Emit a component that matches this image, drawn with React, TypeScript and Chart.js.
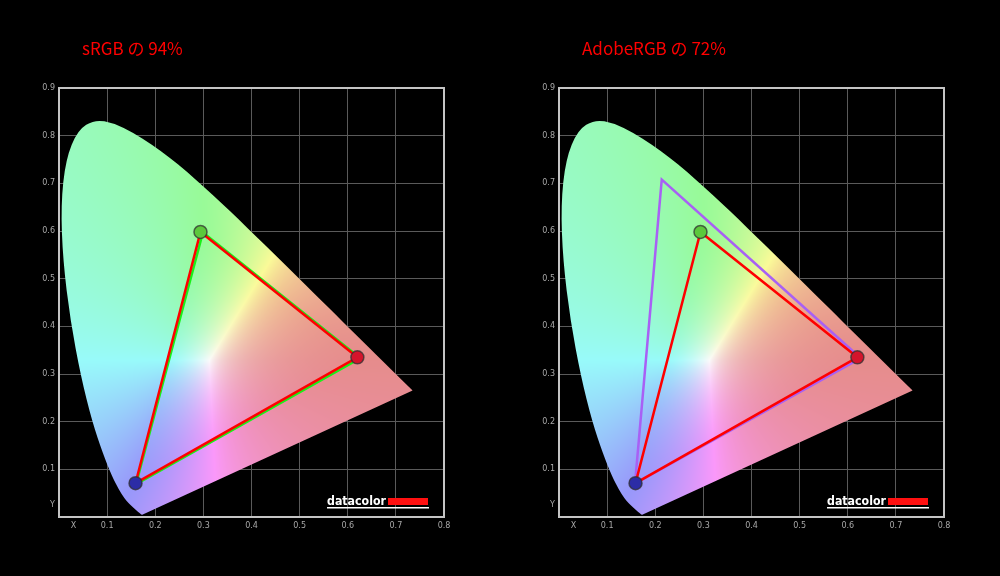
import { useEffect, useRef } from "react";
import { Chart, registerables } from "chart.js";

Chart.register(...registerables);

// CIE 1931 spectral locus (380–700 nm)
const LOCUS_X = [
  0.1741, 0.1733, 0.1726, 0.1714, 0.1689, 0.1644, 0.1566, 0.144, 0.1355, 0.1241, 0.1096, 0.0913,
  0.0687, 0.0454, 0.0235, 0.0082, 0.0039, 0.0139, 0.0389, 0.0743, 0.1142, 0.1547, 0.1929, 0.2296,
  0.2658, 0.3016, 0.3373, 0.3731, 0.4087, 0.4441, 0.4788, 0.5125, 0.5448, 0.5752, 0.6029, 0.627,
  0.6482, 0.6658, 0.6915, 0.7079, 0.719, 0.726, 0.73, 0.7334, 0.7347,
];
const LOCUS_Y = [
  0.005, 0.0048, 0.0048, 0.0051, 0.0069, 0.0109, 0.0177, 0.0297, 0.0399, 0.0578, 0.0868, 0.1327,
  0.2007, 0.295, 0.4127, 0.5384, 0.6548, 0.7502, 0.812, 0.8338, 0.8262, 0.8059, 0.7816, 0.7543,
  0.7243, 0.6923, 0.6589, 0.6245, 0.5896, 0.5547, 0.5202, 0.4866, 0.4544, 0.4242, 0.3965, 0.3725,
  0.3514, 0.334, 0.3083, 0.292, 0.2809, 0.274, 0.27, 0.2666, 0.2653,
];

// measured primaries (R, G, B)
const MEASURED_X = [0.62, 0.294, 0.159];
const MEASURED_Y = [0.335, 0.598, 0.071];
// reference gamuts (R, G, B)
const SRGB_REF_X = [0.626, 0.299, 0.16];
const SRGB_REF_Y = [0.333, 0.597, 0.069];
const ADOBE_REF_X = [0.627, 0.2135, 0.158];
const ADOBE_REF_Y = [0.333, 0.708, 0.07];

const X_TICKS = [0.03, 0.1, 0.2, 0.3, 0.4, 0.5, 0.6, 0.7, 0.8];
const X_TICK_LABELS = ["X", "0.1", "0.2", "0.3", "0.4", "0.5", "0.6", "0.7", "0.8"];
const Y_TICKS = [0.025, 0.1, 0.2, 0.3, 0.4, 0.5, 0.6, 0.7, 0.8, 0.9];
const Y_TICK_LABELS = ["Y", "0.1", "0.2", "0.3", "0.4", "0.5", "0.6", "0.7", "0.8", "0.9"];

const PANEL_TITLES = ["sRGB の 94%", "AdobeRGB の 72%"];
const PANEL_REF_COLORS = ["#19f019", "#a860f5"];
const DOT_COLORS = ["#d4142c", "#5cc83c", "#2c2ca6"];

function xyToRgb(x: number, y: number): [number, number, number] {
  const yy = Math.max(y, 0.002);
  const X = x / yy;
  const Y = 1;
  const Z = (1 - x - yy) / yy;
  let r = 3.2406 * X - 1.5372 * Y - 0.4986 * Z;
  let g = -0.9689 * X + 1.8758 * Y + 0.0415 * Z;
  let b = 0.0557 * X - 0.204 * Y + 1.057 * Z;
  const m = Math.min(r, g, b);
  if (m < 0) {
    r -= m;
    g -= m;
    b -= m;
  }
  const mx = Math.max(r, g, b) || 1;
  r = Math.pow(r / mx, 1.25);
  g = Math.pow(g / mx, 1.25);
  b = Math.pow(b / mx, 1.25);
  const k = 250 - 20 * Math.max(0, r - Math.max(g, b));
  const base = 0.61;
  return [(base + (1 - base) * r) * k, (base + (1 - base) * g) * k, (base + (1 - base) * b) * k];
}

const locusPlugin = {
  id: "locusFill",
  beforeDatasetsDraw(chart: any) {
    const { ctx, chartArea, scales } = chart;
    const meta = chart.getDatasetMeta(0);
    if (!meta || !meta.data.length) return;
    const left = Math.floor(chartArea.left);
    const top = Math.floor(chartArea.top);
    const w = Math.ceil(chartArea.right - left);
    const h = Math.ceil(chartArea.bottom - top);
    const img = ctx.createImageData(w, h);
    for (let py = 0; py < h; py++) {
      const yv = scales.y.getValueForPixel(top + py + 0.5);
      for (let px = 0; px < w; px++) {
        const xv = scales.x.getValueForPixel(left + px + 0.5);
        const [r, g, b] = xyToRgb(xv, yv);
        const i = (py * w + px) * 4;
        img.data[i] = r;
        img.data[i + 1] = g;
        img.data[i + 2] = b;
        img.data[i + 3] = 255;
      }
    }
    const off = document.createElement("canvas");
    off.width = w;
    off.height = h;
    off.getContext("2d")!.putImageData(img, 0, 0);
    const pts = meta.data;
    ctx.save();
    ctx.beginPath();
    ctx.moveTo(pts[0].x, pts[0].y);
    for (let i = 1; i < pts.length - 1; i++) {
      const mx = (pts[i].x + pts[i + 1].x) / 2;
      const my = (pts[i].y + pts[i + 1].y) / 2;
      ctx.quadraticCurveTo(pts[i].x, pts[i].y, mx, my);
    }
    ctx.lineTo(pts[pts.length - 1].x, pts[pts.length - 1].y);
    ctx.closePath();
    ctx.clip();
    ctx.drawImage(off, left, top);
    ctx.restore();
  },
};

const decorPlugin = {
  id: "decor",
  afterDraw(chart: any) {
    const { ctx, chartArea } = chart;
    const { left, top, right, bottom } = chartArea;
    ctx.save();
    // frame
    ctx.strokeStyle = "#c4c4c4";
    ctx.lineWidth = 2;
    ctx.strokeRect(left, top, right - left, bottom - top);
    // title
    const title = chart.options.plugins.panelTitle;
    ctx.fillStyle = "#ff0000";
    ctx.font = '17px "Noto Sans CJK JP", "Noto Sans", sans-serif';
    ctx.textBaseline = "alphabetic";
    ctx.textAlign = "left";
    ctx.fillText(title, left + 23, top - 33);
    // datacolor logo
    const lx = left + 268;
    const ly = bottom - 12;
    ctx.font = 'bold 13px "DejaVu Sans", sans-serif';
    ctx.fillStyle = "#ffffff";
    const tw = ctx.measureText("datacolor").width;
    ctx.save();
    ctx.translate(lx, ly);
    ctx.scale(59 / tw, 1);
    ctx.fillText("datacolor", 0, 0);
    ctx.restore();
    ctx.fillStyle = "#ff1010";
    ctx.fillRect(lx + 61, ly - 7, right - 16 - (lx + 61), 7);
    ctx.fillStyle = "#ffffff";
    ctx.fillRect(lx, ly + 2, right - 15 - lx, 1.5);
    ctx.restore();
  },
};

function closed(a: number[]) {
  return [...a, a[0]];
}

function Panel({ index, refX, refY }: { index: number; refX: number[]; refY: number[] }) {
  const ref = useRef<HTMLCanvasElement>(null);
  useEffect(() => {
    const canvas = ref.current!;
    const tickFont = { family: '"DejaVu Sans", sans-serif', size: 8 };
    const refXc = closed(refX);
    const refYc = closed(refY);
    const mXc = closed(MEASURED_X);
    const mYc = closed(MEASURED_Y);
    const chart = new Chart(canvas, {
      type: "scatter",
      data: {
        datasets: [
          {
            data: LOCUS_X.map((x, i) => ({ x, y: LOCUS_Y[i] })),
            showLine: false,
            pointRadius: 0,
            order: 10,
          },
          {
            data: refXc.map((x, i) => ({ x, y: refYc[i] })),
            showLine: true,
            borderColor: PANEL_REF_COLORS[index],
            borderWidth: 2.5,
            pointRadius: 0,
            order: 3,
          },
          {
            data: mXc.map((x, i) => ({ x, y: mYc[i] })),
            showLine: true,
            borderColor: "#ff0000",
            borderWidth: 2.5,
            pointRadius: 0,
            order: 2,
          },
          {
            data: MEASURED_X.map((x, i) => ({ x, y: MEASURED_Y[i] })),
            showLine: false,
            pointRadius: 6.5,
            pointBackgroundColor: DOT_COLORS,
            pointBorderColor: "rgba(50,50,50,0.75)",
            pointBorderWidth: 1.5,
            order: 1,
          },
        ],
      },
      options: {
        animation: false,
        responsive: false,
        events: [],
        layout: { padding: { left: 0, right: 56, top: 88, bottom: 39 } },
        plugins: {
          legend: { display: false },
          tooltip: { enabled: false },
          panelTitle: PANEL_TITLES[index],
        } as any,
        scales: {
          x: {
            type: "linear",
            min: 0,
            max: 0.8,
            afterBuildTicks: (s: any) => {
              s.ticks = X_TICKS.map((v) => ({ value: v }));
            },
            afterFit: (s: any) => {
              s.height = 20;
            },
            ticks: {
              callback: (_v: any, i: number) => X_TICK_LABELS[i],
              color: "#a8a8a8",
              font: tickFont,
              padding: 4,
              maxRotation: 0,
              autoSkip: false,
            },
            grid: {
              color: (c: any) => (c.index === 0 ? "rgba(0,0,0,0)" : "#5a5a5a"),
              drawTicks: false,
              lineWidth: 1,
            },
            border: { display: false },
          },
          y: {
            type: "linear",
            min: 0,
            max: 0.9,
            afterBuildTicks: (s: any) => {
              s.ticks = Y_TICKS.map((v) => ({ value: v }));
            },
            afterFit: (s: any) => {
              s.width = 59;
            },
            ticks: {
              callback: (_v: any, i: number) => Y_TICK_LABELS[i],
              color: "#a8a8a8",
              font: tickFont,
              padding: 4,
              autoSkip: false,
            },
            grid: {
              color: (c: any) => (c.index === 0 ? "rgba(0,0,0,0)" : "#5a5a5a"),
              drawTicks: false,
              lineWidth: 1,
            },
            border: { display: false },
          },
        },
      } as any,
      plugins: [locusPlugin, decorPlugin],
    });
    return () => chart.destroy();
  }, [index, refX, refY]);
  return (
    <canvas
      ref={ref}
      width={500}
      height={576}
      style={{ position: "absolute", left: index * 500, top: 0, width: 500, height: 576 }}
    />
  );
}

export default function App() {
  return (
    <div
      style={{
        position: "absolute",
        left: 0,
        top: 0,
        width: 1000,
        height: 576,
        background: "#000",
        overflow: "hidden",
      }}
    >
      <Panel index={0} refX={SRGB_REF_X} refY={SRGB_REF_Y} />
      <Panel index={1} refX={ADOBE_REF_X} refY={ADOBE_REF_Y} />
    </div>
  );
}
